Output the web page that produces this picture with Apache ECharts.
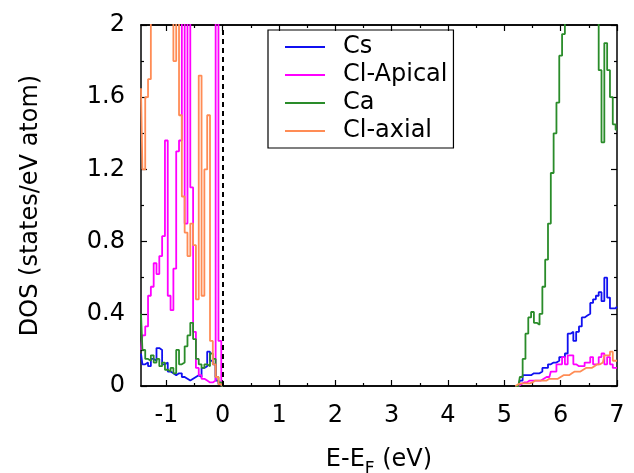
<!DOCTYPE html>
<html>
<head>
<meta charset="utf-8">
<script src="https://cdn.jsdelivr.net/npm/echarts@6/dist/echarts.min.js"></script>
<style>
  body { margin: 0; background: #fff; }
  #dos { width: 634px; height: 473px; }
</style>
</head>
<body>
<div id="dos"></div>
<script>
// energy grid (eV, relative to E_F)
var energy = [-1.45, -1.40, -1.35, -1.30, -1.25, -1.20, -1.15, -1.10, -1.05, -1.00,
              -0.95, -0.90, -0.85, -0.80, -0.75, -0.70, -0.65, -0.60, -0.55, -0.50,
              -0.45, -0.40, -0.35, -0.30, -0.25, -0.20, -0.15, -0.10, -0.05, 0.00,
              5.20, 5.25, 5.30, 5.35, 5.40, 5.45, 5.50, 5.55, 5.60, 5.65,
              5.70, 5.75, 5.80, 5.85, 5.90, 5.95, 6.00, 6.05, 6.10, 6.15,
              6.20, 6.25, 6.30, 6.35, 6.40, 6.45, 6.50, 6.55, 6.60, 6.65,
              6.70, 6.75, 6.80, 6.85, 6.90, 6.95, 7.00];

var cs = [0.18, 0.12, 0.13, 0.11, 0.15, 0.14, 0.21, 0.20, 0.12, 0.13,
          0.08, 0.07, 0.06, 0.07, 0.07, 0.05, 0.04, 0.03, 0.04, 0.05,
          0.06, 0.05, 0.10, 0.11, 0.19, 0.14, 0.12, 0.03, 0.01, 0,
          0, 0, 0.03, 0.06, 0.06, 0.06, 0.07, 0.07, 0.07, 0.08,
          0.10, 0.10, 0.12, 0.13, 0.13, 0.14, 0.16, 0.16, 0.18, 0.29,
          0.30, 0.25, 0.30, 0.33, 0.38, 0.39, 0.40, 0.46, 0.48, 0.50,
          0.52, 0.47, 0.60, 0.49, 0.43, 0.43, 0.44];

var clApical = [0.20, 0.28, 0.33, 0.50, 0.55, 0.68, 0.62, 0.72, 0.83, 1.36,
                0.50, 0.42, 0.65, 1.30, 1.36, 2.4, 0.90, 2.4, 1.10, 0.30,
                0.10, 0.06, 0.04, 0.03, 0.02, 0.02, 0.03, 2.5, 0.25, 0,
                0, 0, 0.01, 0.02, 0.02, 0.03, 0.03, 0.03, 0.03, 0.03,
                0.04, 0.05, 0.05, 0.08, 0.08, 0.12, 0.12, 0.16, 0.12, 0.17,
                0.17, 0.12, 0.11, 0.11, 0.11, 0.13, 0.13, 0.16, 0.12, 0.12,
                0.16, 0.18, 0.12, 0.16, 0.12, 0.10, 0.10];

var ca = [0.40, 0.20, 0.15, 0.14, 0.17, 0.13, 0.15, 0.11, 0.13, 0.09,
          0.08, 0.10, 0.07, 0.20, 0.12, 0.13, 0.22, 0.28, 0.35, 0.26,
          0.15, 0.12, 0.10, 0.12, 0.11, 0.18, 0.15, 0.05, 0.02, 0,
          0, 0, 0.05, 0.15, 0.29, 0.38, 0.41, 0.35, 0.34, 0.40,
          0.55, 0.70, 0.90, 1.18, 1.40, 1.57, 1.83, 1.95, 2.4, 2.6,
          2.5, 2.7, 2.6, 2.5, 2.6, 2.7, 2.5, 2.6, 2.4, 2.3,
          1.75, 1.35, 1.90, 1.75, 1.60, 1.45, 1.42];

var clAxial = [1.65, 1.20, 1.60, 1.70, 2.4, 2.5, 2.6, 2.5, 2.6, 2.7,
               2.6, 2.5, 1.80, 2.2, 1.50, 1.05, 0.85, 0.72, 0.90, 0.78,
               0.48, 1.72, 0.50, 1.20, 1.50, 0.25, 0.12, 0.05, 0.01, 0,
               0, 0.01, 0.015, 0.015, 0.015, 0.015, 0.02, 0.03, 0.03, 0.03,
               0.03, 0.03, 0.04, 0.04, 0.04, 0.04, 0.05, 0.06, 0.06, 0.06,
               0.07, 0.08, 0.08, 0.08, 0.09, 0.10, 0.10, 0.10, 0.11, 0.12,
               0.12, 0.13, 0.17, 0.17, 0.19, 0.14, 0.14];

var xMajor = [-1, 0, 1, 2, 3, 4, 5, 6, 7];
var xMinor = [-0.5, 0.5, 1.5, 2.5, 3.5, 4.5, 5.5, 6.5];

// pair energies with values; break the line across the empty gap
function pairs(vals) {
  var out = [];
  energy.forEach(function (e, i) {
    if (i > 0 && e - energy[i - 1] > 1) {
      out.push([energy[i - 1] + 0.01, '-']);
      out.push([e - 0.01, '-']);
    }
    out.push([e, vals[i]]);
  });
  return out;
}

var font = 'DejaVu Sans';

function xAx(pos, ticks, len, labels) {
  return {
    type: 'value', position: pos, min: -1.45, max: 7,
    axisLine: { show: true, onZero: false, lineStyle: { color: '#000', width: 1.5 } },
    axisTick: { show: true, inside: true, length: len, customValues: ticks,
                lineStyle: { color: '#000', width: 1.2 } },
    axisLabel: { show: labels, customValues: ticks, margin: 18,
                 fontFamily: font, fontSize: 24, color: '#000' },
    splitLine: { show: false }
  };
}

function yAx(pos, labels) {
  return {
    type: 'value', position: pos, min: 0, max: 2, interval: 0.4,
    axisLine: { show: true, onZero: false, lineStyle: { color: '#000', width: 1.5 } },
    axisTick: { show: true, inside: true, length: 6, lineStyle: { color: '#000', width: 1.2 } },
    minorTick: { show: true, splitNumber: 2, length: 3, lineStyle: { color: '#000', width: 1.2 } },
    axisLabel: { show: labels, margin: 16, fontFamily: font, fontSize: 24, color: '#000' },
    splitLine: { show: false }
  };
}

var xBottom = xAx('bottom', xMajor, 6, true);
xBottom.name = '{a|E-E}{s|F}{a| (eV)}';
xBottom.nameLocation = 'middle';
xBottom.nameGap = 55;
xBottom.nameMoveOverlap = false;
xBottom.nameTextStyle = {
  rich: {
    a: { fontFamily: font, fontSize: 24, color: '#000' },
    s: { fontFamily: font, fontSize: 17, color: '#000', padding: [20, 0, 0, 0] }
  }
};

var yLeft = yAx('left', true);
yLeft.name = 'DOS (states/eV atom)';
yLeft.nameLocation = 'middle';
yLeft.nameGap = 98;
yLeft.nameMoveOverlap = false;
yLeft.nameTextStyle = { fontFamily: font, fontSize: 24, color: '#000' };

function line(name, vals, color) {
  return {
    name: name, type: 'line', data: pairs(vals), step: 'middle',
    showSymbol: false, symbol: 'none', clip: true, connectNulls: false,
    lineStyle: { color: color, width: 1.8 }, itemStyle: { color: color }
  };
}

var series = [
  line('Cs', cs, '#1010f0'),
  line('Cl-Apical', clApical, '#ff00ff'),
  line('Ca', ca, '#2a8c2a'),
  line('Cl-axial', clAxial, '#ff8c55')
];
series[0].markLine = {
  silent: true, symbol: 'none', label: { show: false },
  lineStyle: { color: '#000', type: [5, 4], width: 2 },
  data: [{ xAxis: 0 }]
};

var myChart = echarts.init(document.getElementById('dos'));
myChart.setOption({
  animation: false,
  backgroundColor: '#fff',
  grid: { left: 141, right: 17, top: 25, bottom: 87, containLabel: false, outerBoundsMode: 'none' },
  legend: {
    orient: 'vertical', left: 268, top: 30,
    data: ['Cs', 'Cl-Apical', 'Ca', 'Cl-axial'],
    icon: 'rect', itemWidth: 40, itemHeight: 2, itemGap: 4,
    padding: [5, 6, 5, 17],
    borderColor: '#000', borderWidth: 1.2,
    textStyle: { fontFamily: font, fontSize: 24, color: '#000', lineHeight: 23,
                 padding: [0, 0, 0, 13] }
  },
  xAxis: [
    xBottom,
    xAx('bottom', xMinor, 3, false),
    xAx('top', xMajor, 6, false),
    xAx('top', xMinor, 3, false)
  ],
  yAxis: [yLeft, yAx('right', false)],
  series: series
});
</script>
</body>
</html>
